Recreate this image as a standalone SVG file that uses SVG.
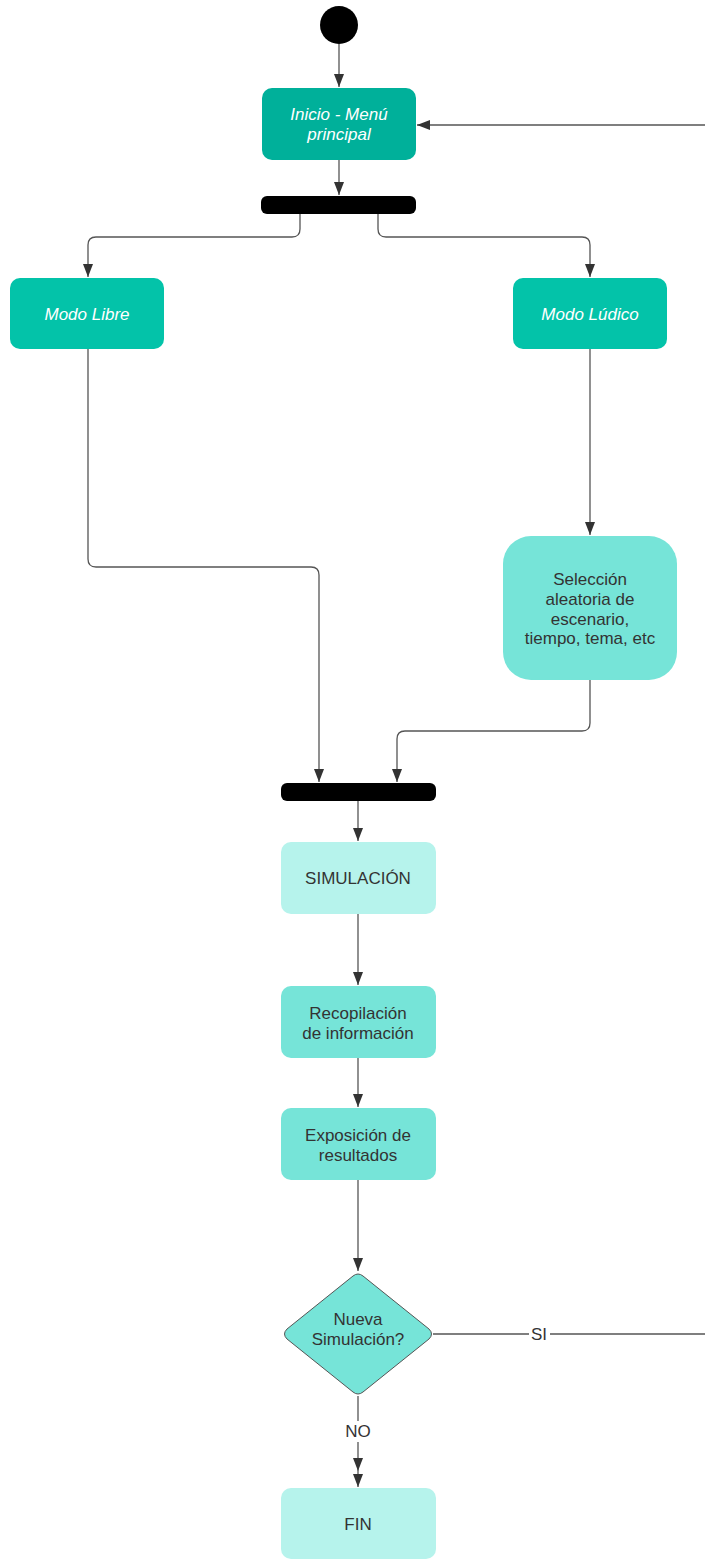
<svg xmlns="http://www.w3.org/2000/svg" width="705" height="1560" viewBox="0 0 705 1560">
<defs>
<marker id="arr" viewBox="0 0 13 10" refX="13" refY="5" markerWidth="13" markerHeight="10" markerUnits="userSpaceOnUse" orient="auto">
<path d="M0,0 L13,5 L0,10 Z" fill="#333"/>
</marker>
<style>
.ln{fill:none;stroke:#555;stroke-width:1.3}
.t{font-family:"Liberation Sans",Arial,sans-serif;font-size:17px;fill:#333;text-anchor:middle}
.ti{font-family:"Liberation Sans",Arial,sans-serif;font-size:17px;fill:#fff;font-style:italic;text-anchor:middle}
.bar{fill:#000}
.dark{fill:#00b09a}
.mid{fill:#03c3a9}
.lt{fill:#76e4d8}
.pale{fill:#b6f3ec}
</style>
</defs>
<rect width="705" height="1560" fill="#fff"/>
<g id="connectors">
<path class="ln" d="M339,44 V87" marker-end="url(#arr)"/>
<path class="ln" d="M339,160 V195" marker-end="url(#arr)"/>
<path class="ln" d="M300,214 V229 Q300,237 292,237 H96 Q88,237 88,245 V277" marker-end="url(#arr)"/>
<path class="ln" d="M378,214 V229 Q378,237 386,237 H582 Q590,237 590,245 V277" marker-end="url(#arr)"/>
<path class="ln" d="M88,349 V559 Q88,567 96,567 H311 Q319,567 319,575 V782" marker-end="url(#arr)"/>
<path class="ln" d="M590,349 V535" marker-end="url(#arr)"/>
<path class="ln" d="M590,680 V723 Q590,731 582,731 H405 Q397,731 397,739 V782" marker-end="url(#arr)"/>
<path class="ln" d="M358,801 V841" marker-end="url(#arr)"/>
<path class="ln" d="M358,914 V985" marker-end="url(#arr)"/>
<path class="ln" d="M358,1058 V1107" marker-end="url(#arr)"/>
<path class="ln" d="M358,1180 V1271" marker-end="url(#arr)"/>
<path class="ln" d="M433,1334 H529"/>
<path class="ln" d="M550,1334 H705"/>
<text class="t" x="539" y="1340">SI</text>
<path class="ln" d="M705,125 H417" marker-end="url(#arr)"/>
<path class="ln" d="M358,1396 V1421"/>
<text class="t" x="358" y="1437">NO</text>
<path class="ln" d="M358,1442 V1471" marker-end="url(#arr)"/>
<path class="ln" d="M358,1471 V1487" marker-end="url(#arr)"/>
</g>
<g id="start"><circle cx="339" cy="25" r="19" fill="#000"/></g>
<g id="inicio">
<rect class="dark" x="262" y="88" width="154" height="72" rx="10"/>
<text class="ti" x="339" y="120">Inicio - Menú</text>
<text class="ti" x="339" y="140">principal</text>
</g>
<g id="fork1"><rect class="bar" x="261" y="196" width="155" height="18" rx="6"/></g>
<g id="modoLibre">
<rect class="mid" x="10" y="278" width="154" height="71" rx="10"/>
<text class="ti" x="87" y="320">Modo Libre</text>
</g>
<g id="modoLudico">
<rect class="mid" x="513" y="278" width="154" height="71" rx="10"/>
<text class="ti" x="590" y="320">Modo Lúdico</text>
</g>
<g id="seleccion">
<rect class="lt" x="503" y="536" width="174" height="144" rx="28"/>
<text class="t" x="590" y="585">Selección</text>
<text class="t" x="590" y="605">aleatoria de</text>
<text class="t" x="590" y="625">escenario,</text>
<text class="t" x="590" y="644">tiempo, tema, etc</text>
</g>
<g id="fork2"><rect class="bar" x="281" y="783" width="155" height="18" rx="6"/></g>
<g id="simulacion">
<rect class="pale" x="281" y="842" width="155" height="72" rx="10"/>
<text class="t" x="358" y="884">SIMULACIÓN</text>
</g>
<g id="recopilacion">
<rect class="lt" x="281" y="986" width="155" height="72" rx="10"/>
<text class="t" x="358" y="1019">Recopilación</text>
<text class="t" x="358" y="1039">de información</text>
</g>
<g id="exposicion">
<rect class="lt" x="281" y="1108" width="155" height="72" rx="10"/>
<text class="t" x="358" y="1141">Exposición de</text>
<text class="t" x="358" y="1161">resultados</text>
</g>
<g id="decision">
<path class="lt" d="M353,1276 Q358,1272 363,1276 L429,1329 Q434,1334 429,1339 L363,1392 Q358,1396 353,1392 L287,1339 Q282,1334 287,1329 Z" stroke="#555" stroke-width="1"/>
<text class="t" x="358" y="1325">Nueva</text>
<text class="t" x="358" y="1345">Simulación?</text>
</g>
<g id="fin">
<rect class="pale" x="281" y="1488" width="155" height="71" rx="10"/>
<text class="t" x="358" y="1530">FIN</text>
</g>
</svg>
